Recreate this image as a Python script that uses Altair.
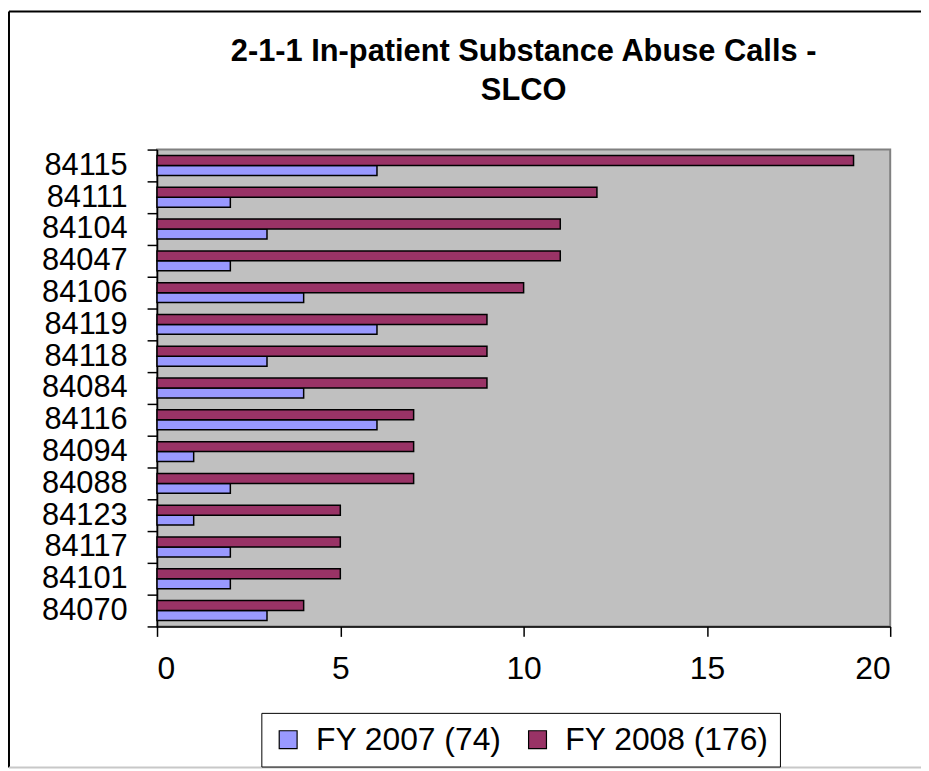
import altair as alt
import pandas as pd

zips = ["84115", "84111", "84104", "84047", "84106", "84119", "84118", "84084",
        "84116", "84094", "84088", "84123", "84117", "84101", "84070"]
fy2007 = [6, 2, 3, 2, 4, 6, 3, 4, 6, 1, 2, 1, 2, 2, 3]
fy2008 = [19, 12, 11, 11, 10, 9, 9, 9, 7, 7, 7, 5, 5, 5, 4]
series = ["FY 2007 (74)", "FY 2008 (176)"]
colors = ["#9999FF", "#993366"]
x_ticks = [0, 5, 10, 15, 20]

rows = []
for z, a, b in zip(zips, fy2007, fy2008):
    rows.append({"zip": z, "series": series[0], "value": a})
    rows.append({"zip": z, "series": series[1], "value": b})
df = pd.DataFrame(rows)

FONT = "Liberation Sans"

bars = alt.Chart(df).mark_bar(stroke="black", strokeWidth=1.5).encode(
    y=alt.Y("zip:N", sort=zips,
            scale=alt.Scale(paddingInner=0, paddingOuter=0),
            axis=alt.Axis(title=None, tickBand="extent", labelFontSize=31,
                          labelFont=FONT, labelColor="black", tickSize=10,
                          tickColor="black", domainColor="black", labelPadding=20,
                          tickWidth=1.5, domainWidth=1.5)),
    yOffset=alt.YOffset("series:N", sort=[series[1], series[0]],
                        scale=alt.Scale(domain=[series[1], series[0]], paddingInner=0, paddingOuter=0.6)),
    x=alt.X("value:Q", scale=alt.Scale(domain=[0, 20], nice=False),
            axis=alt.Axis(title=None, values=x_ticks, labelFontSize=32, labelFont=FONT,
                          labelColor="black", tickSize=10, tickColor="black",
                          domainColor="black", grid=False, labelPadding=17,
                          tickWidth=1.5, domainWidth=1.5)),
    color=alt.Color("series:N", scale=alt.Scale(domain=series, range=colors),
                    legend=alt.Legend(title=None, orient="none", legendX=105, legendY=567,
                                      direction="horizontal", symbolType="square",
                                      symbolSize=324, symbolStrokeColor="black",
                                      symbolStrokeWidth=1.2, symbolOpacity=1,
                                      labelFontSize=32, labelFont=FONT, labelColor="black",
                                      strokeColor="black", fillColor="white",
                                      padding=11, columnPadding=20, labelOffset=12,
                                      labelLimit=400)),
)

border_df = pd.DataFrame([{"k": 1}])
top = alt.Chart(border_df).mark_rule(color="black", strokeWidth=2, clip=False).encode(
    x=alt.value(-149), x2=alt.value(780), y=alt.value(-139))
left = alt.Chart(border_df).mark_rule(color="black", strokeWidth=2, clip=False).encode(
    x=alt.value(-149), y=alt.value(-139), y2=alt.value(622))
bottom = alt.Chart(border_df).mark_rule(color="#c8c8c8", strokeWidth=2, clip=False).encode(
    x=alt.value(-149), x2=alt.value(780), y=alt.value(622))

chart = alt.layer(bars, top, left, bottom).properties(
    width=738, height=480,
    autosize=alt.AutoSizeParams(type="none"),
    padding={"left": 150, "top": 140, "right": 31, "bottom": 143},
    title=alt.TitleParams(["2-1-1 In-patient Substance Abuse Calls -", "SLCO"],
                          font=FONT, fontSize=31, fontWeight="bold", color="black",
                          anchor="middle", frame="group", lineHeight=39, offset=0, dy=97),
).configure_view(fill="#C0C0C0", stroke="#808080", strokeWidth=2)

chart.save("out.html", embed_options={"renderer": "svg", "actions": False})
